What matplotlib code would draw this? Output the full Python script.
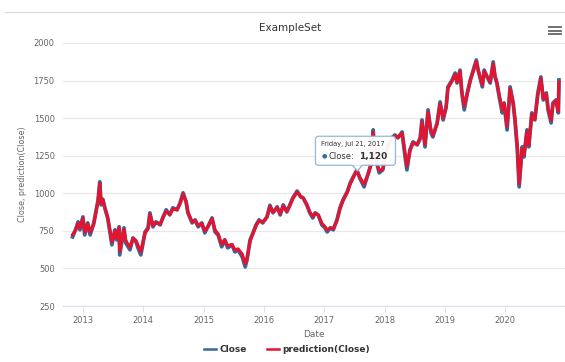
import matplotlib
matplotlib.use("Agg")
import matplotlib.pyplot as plt
from matplotlib.patches import FancyBboxPatch, Polygon
from matplotlib.lines import Line2D
from matplotlib.transforms import IdentityTransform

# ---- data ----
dates = [2012.83, 2012.88, 2012.92, 2012.95, 2013.00, 2013.03, 2013.08, 2013.12, 2013.18, 2013.22,
         2013.25, 2013.28, 2013.30, 2013.33, 2013.36, 2013.41, 2013.45, 2013.48, 2013.53, 2013.56,
         2013.60, 2013.61, 2013.68, 2013.71, 2013.78, 2013.83, 2013.88, 2013.91, 2013.96, 2014.03,
         2014.08, 2014.11, 2014.16, 2014.21, 2014.28, 2014.33, 2014.38, 2014.44, 2014.49, 2014.56,
         2014.61, 2014.66, 2014.71, 2014.74, 2014.81, 2014.86, 2014.91, 2014.97, 2015.02, 2015.07,
         2015.14, 2015.19, 2015.24, 2015.30, 2015.35, 2015.40, 2015.47, 2015.52, 2015.57, 2015.64,
         2015.69, 2015.72, 2015.77, 2015.82, 2015.87, 2015.92, 2015.98, 2016.05, 2016.10, 2016.15,
         2016.22, 2016.27, 2016.32, 2016.38, 2016.43, 2016.48, 2016.55, 2016.61, 2016.65, 2016.71,
         2016.76, 2016.81, 2016.85, 2016.90, 2016.96, 2017.01, 2017.05, 2017.10, 2017.15, 2017.21,
         2017.26, 2017.31, 2017.38, 2017.43, 2017.48, 2017.54, 2017.59, 2017.66, 2017.73, 2017.78,
         2017.81, 2017.84, 2017.87, 2017.91, 2017.97, 2018.04, 2018.12, 2018.17, 2018.22, 2018.29,
         2018.34, 2018.37, 2018.42, 2018.47, 2018.54, 2018.59, 2018.62, 2018.67, 2018.72, 2018.77,
         2018.80, 2018.87, 2018.92, 2018.97, 2019.02, 2019.05, 2019.12, 2019.17, 2019.20, 2019.25,
         2019.28, 2019.32, 2019.37, 2019.42, 2019.47, 2019.52, 2019.55, 2019.62, 2019.65, 2019.70,
         2019.75, 2019.80, 2019.83, 2019.86, 2019.90, 2019.95, 2019.98, 2020.03, 2020.08, 2020.13,
         2020.16, 2020.20, 2020.23, 2020.28, 2020.31, 2020.36, 2020.39, 2020.44, 2020.49, 2020.54,
         2020.59, 2020.63, 2020.68, 2020.71, 2020.76, 2020.79, 2020.84, 2020.88, 2020.89]

close = [710, 760, 810, 757, 843, 723, 803, 723, 803, 890,
         950, 1076, 923, 960, 910, 836, 737, 657, 757, 690,
         777, 590, 770, 670, 624, 703, 677, 640, 590, 743,
         770, 870, 777, 810, 790, 843, 890, 856, 903, 890,
         936, 1003, 943, 870, 803, 823, 777, 803, 737, 777,
         836, 743, 723, 644, 690, 637, 657, 610, 624, 577,
         510, 557, 690, 737, 790, 823, 803, 843, 920, 870,
         910, 856, 923, 876, 923, 970, 1015, 976, 970, 923,
         870, 836, 870, 856, 790, 770, 743, 770, 757, 823,
         903, 956, 1010, 1069, 1109, 1156, 1100, 1043, 1136, 1200,
         1422, 1250, 1202, 1136, 1156, 1309, 1369, 1388, 1369, 1408,
         1242, 1156, 1289, 1342, 1322, 1369, 1488, 1309, 1555, 1402,
         1375, 1468, 1608, 1488, 1575, 1708, 1754, 1800, 1734, 1820,
         1668, 1555, 1668, 1754, 1820, 1887, 1820, 1708, 1820, 1774,
         1734, 1874, 1774, 1734, 1641, 1535, 1601, 1422, 1708, 1601,
         1488, 1289, 1043, 1309, 1242, 1422, 1309, 1535, 1488, 1668,
         1774, 1621, 1668, 1555, 1468, 1601, 1621, 1535, 1754]

prediction = [725, 755, 800, 770, 835, 740, 795, 740, 795, 880,
              945, 1065, 935, 955, 905, 840, 750, 675, 750, 700,
              770, 615, 760, 685, 640, 700, 685, 655, 610, 735,
              765, 860, 785, 805, 795, 840, 880, 860, 895, 890,
              930, 995, 945, 875, 810, 820, 785, 800, 750, 775,
              830, 755, 730, 660, 690, 650, 660, 622, 630, 595,
              530, 565, 680, 735, 785, 818, 808, 840, 912, 875,
              905, 862, 915, 880, 918, 965, 1008, 978, 968, 926,
              876, 845, 866, 855, 800, 778, 756, 768, 765, 818,
              895, 950, 1005, 1062, 1105, 1150, 1105, 1060, 1130, 1195,
              1405, 1262, 1208, 1150, 1160, 1300, 1362, 1382, 1370, 1400,
              1262, 1180, 1282, 1336, 1325, 1362, 1475, 1325, 1540, 1415,
              1385, 1460, 1595, 1500, 1570, 1700, 1748, 1792, 1740, 1812,
              1680, 1580, 1660, 1748, 1812, 1875, 1822, 1720, 1812, 1775,
              1742, 1862, 1780, 1742, 1655, 1555, 1598, 1445, 1695, 1605,
              1500, 1310, 1060, 1298, 1255, 1410, 1320, 1525, 1492, 1655,
              1765, 1630, 1660, 1565, 1485, 1592, 1615, 1545, 1740]

series_names = ["Close", "prediction(Close)"]
y_ticks = [250, 500, 750, 1000, 1250, 1500, 1750, 2000]
x_ticks = [2013, 2014, 2015, 2016, 2017, 2018, 2019, 2020]
tooltip_date = 2017.55
tooltip_value = 1120
tooltip_title = "Friday, Jul 21, 2017"

# ---- figure ----
W, H = 565, 362
fig = plt.figure(figsize=(W / 100, H / 100), dpi=100)
fig.patch.set_facecolor("white")
ax = fig.add_axes([63 / W, 1 - 306 / H, (565 - 63) / W, (306 - 43) / H])

c_close = "#35689e"
c_pred = "#e3142f"
ax.plot(dates, close, color=c_close, lw=2.7, solid_joinstyle="round", zorder=3)
ax.plot(dates, prediction, color=c_pred, lw=2.3, solid_joinstyle="round", zorder=4)

ax.set_xlim(2012.67, 2020.99)
ax.set_ylim(250, 2000)
ax.set_yticks(y_ticks)
ax.set_xticks(x_ticks)
ax.set_xticklabels([str(t) for t in x_ticks])
ax.grid(axis="y", color="#e8e8e8", lw=0.9)
ax.set_axisbelow(True)
for s in ["top", "right", "left"]:
    ax.spines[s].set_visible(False)
ax.spines["bottom"].set_color("#dde3ec")
ax.spines["bottom"].set_linewidth(0.9)
ax.tick_params(axis="y", length=0, labelsize=6, labelcolor="#666666", pad=6)
ax.tick_params(axis="x", length=4, width=0.7, color="#dde3ec", direction="out",
               labelsize=6, labelcolor="#666666", pad=3)
ax.set_xlabel("Date", fontsize=6.5, color="#666666", labelpad=4)
ax.set_ylabel("Close, prediction(Close)", fontsize=5.8, color="#666666")
ax.yaxis.set_label_coords(-0.072, 0.5)

fig.text(290 / W, 1 - 28 / H, "ExampleSet", ha="center", va="center", fontsize=7.5, color="#333333")

# menu icon
for yy in (27, 30.5, 34):
    fig.add_artist(Line2D([549 / W, 561 / W], [1 - yy / H, 1 - yy / H], color="#666666", lw=1.3,
                          transform=fig.transFigure))
# top thin line
fig.add_artist(Line2D([5 / W, 1.0], [1 - 11.5 / H, 1 - 11.5 / H], color="#d9d9d9", lw=0.8,
                      transform=fig.transFigure))

# legend
handles = [Line2D([], [], color=c_close, lw=1.8), Line2D([], [], color=c_pred, lw=1.8)]
leg = fig.legend(handles, series_names, loc="center", bbox_to_anchor=(287 / W, 1 - 350 / H),
                 ncol=2, frameon=False, prop={"size": 6.5, "weight": "bold"},
                 handlelength=1.3, handletextpad=0.4, columnspacing=2.2)
for t in leg.get_texts():
    t.set_color("#333333")

# tooltip
fig.canvas.draw()
px, py = ax.transData.transform((tooltip_date, tooltip_value))
bx0, by0, bw, bh = px - 42, py + 10, 80, 29
box = FancyBboxPatch((bx0, by0), bw, bh, boxstyle="round,pad=0,rounding_size=3",
                     facecolor="white", edgecolor="#8fb3d4", lw=0.9, alpha=0.95,
                     transform=IdentityTransform(), zorder=10)
fig.add_artist(box)
tail = Polygon([(px - 5, by0 + 0.5), (px + 5, by0 + 0.5), (px, by0 - 6)], closed=True,
               facecolor="white", edgecolor="#8fb3d4", lw=0.9, transform=IdentityTransform(), zorder=10)
fig.add_artist(tail)
fig.add_artist(Line2D([px - 4.3, px + 4.3], [by0 + 0.8, by0 + 0.8], color="white", lw=1.4,
                      transform=IdentityTransform(), zorder=11))
fig.text(bx0 + 6, by0 + bh - 8, tooltip_title, fontsize=4.8, color="#333333",
         transform=IdentityTransform(), va="center", ha="left", zorder=12)
fig.text(bx0 + 6, by0 + 9, "\u25cf", fontsize=4.5, color=c_close,
         transform=IdentityTransform(), va="center", ha="left", zorder=12)
fig.text(bx0 + 13, by0 + 9, "Close:", fontsize=6, color="#333333",
         transform=IdentityTransform(), va="center", ha="left", zorder=12)
fig.text(bx0 + 44, by0 + 9, f"{tooltip_value:,}", fontsize=6.5, color="#333333", weight="bold",
         transform=IdentityTransform(), va="center", ha="left", zorder=12)

fig.savefig("out.png", dpi=100)
